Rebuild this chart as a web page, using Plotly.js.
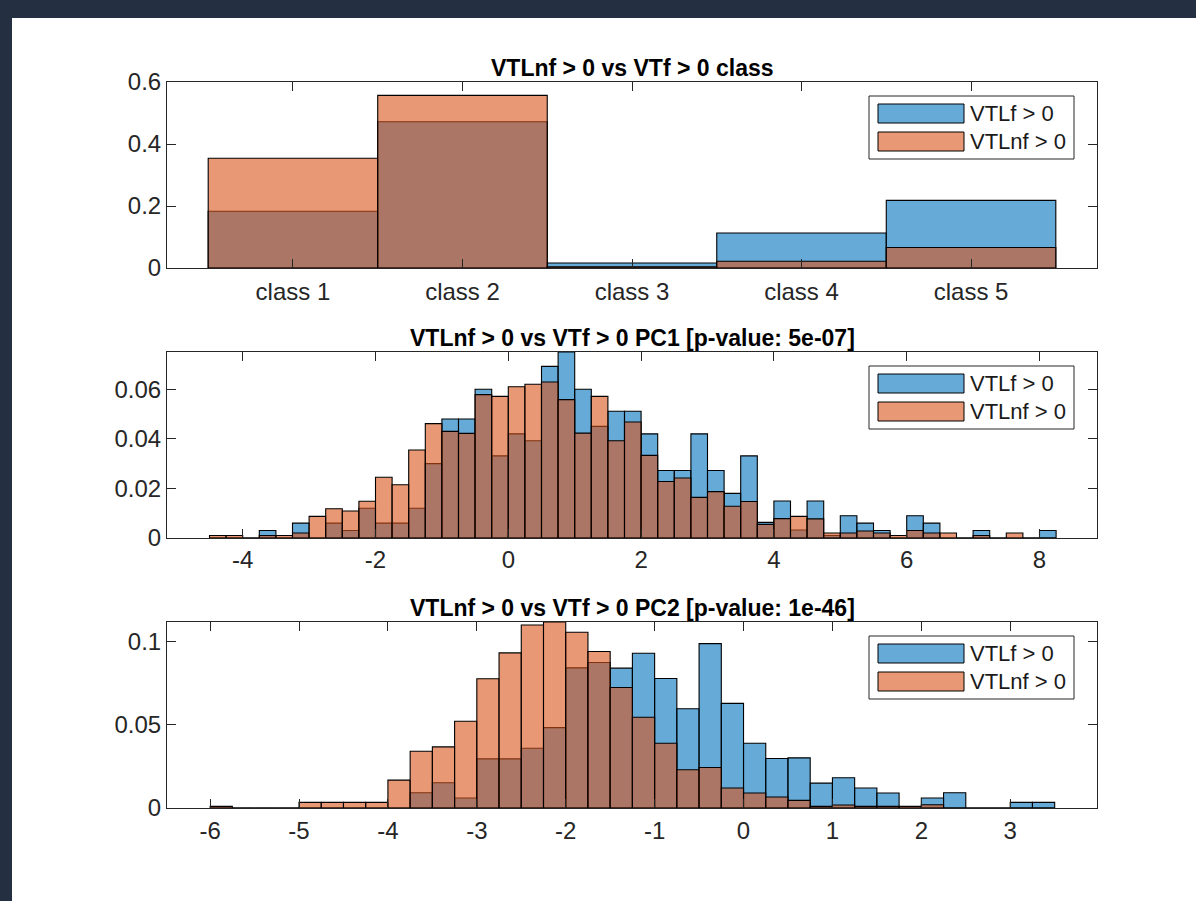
<!DOCTYPE html>
<html>
<head>
<meta charset="utf-8">
<script src="https://cdn.plot.ly/plotly-3.0.1.min.js"></script>
<style>
  html, body { margin: 0; padding: 0; background: #243042; width: 1196px; height: 901px; overflow: hidden; }
  #plot { position: absolute; left: 12px; top: 18px; width: 1184px; height: 883px; background: #ffffff; }
</style>
</head>
<body>
<div id="plot"></div>
<script>
// ---------------- data ----------------
const seriesNames = ['VTLf > 0', 'VTLnf > 0'];

const classCats = ['class 1', 'class 2', 'class 3', 'class 4', 'class 5'];
const classF  = [0.183, 0.472, 0.016, 0.113, 0.218];
const classNF = [0.354, 0.557, 0.004, 0.022, 0.066];

const binWidth = 0.25;

const pc1BinStart = -4.5;
const pc1F = [0, 0, 0, 0.003, 0, 0.006, 0, 0.006, 0.003, 0.012,
              0.006, 0.006, 0.012, 0.030, 0.048, 0.048, 0.060, 0.0331, 0.042, 0.0392,
              0.0692, 0.075, 0.060, 0.045, 0.0511, 0.0511, 0.042, 0.0272, 0.0272, 0.042,
              0.0272, 0.018, 0.0331, 0.0063, 0.0149, 0.0032, 0.0149, 0.001, 0.009, 0.006,
              0.003, 0, 0.009, 0.006, 0, 0, 0.003, 0, 0, 0, 0.003];
const pc1NF = [0.001, 0.001, 0, 0.001, 0.001, 0.002, 0.0087, 0.0118, 0.0109, 0.0148,
               0.0245, 0.0215, 0.0355, 0.0461, 0.043, 0.0422, 0.0578, 0.0571, 0.061, 0.062,
               0.0629, 0.0558, 0.0423, 0.0571, 0.0392, 0.0468, 0.0333, 0.0228, 0.0242, 0.0164,
               0.0187, 0.0128, 0.0147, 0.0055, 0.0078, 0.0087, 0.0077, 0.002, 0.002, 0.0028,
               0.002, 0.001, 0.003, 0.002, 0.002, 0, 0.001, 0, 0.002, 0, 0];

const pc2BinStart = -6.0;
const pc2F = [0, 0, 0, 0, 0, 0, 0, 0, 0, 0.0092,
              0.0152, 0.006, 0.0296, 0.0296, 0.036, 0.0484, 0.0844, 0.0876, 0.0842, 0.0932,
              0.078, 0.0598, 0.099, 0.063, 0.039, 0.0298, 0.0302, 0.015, 0.0182, 0.012,
              0.009, 0, 0.006, 0.0092, 0, 0, 0.0034, 0.0034];
const pc2NF = [0.001, 0, 0, 0, 0.0034, 0.0034, 0.0034, 0.0034, 0.0168, 0.0342,
               0.0368, 0.0522, 0.0778, 0.0934, 0.1102, 0.112, 0.1058, 0.0942, 0.0726, 0.0546,
               0.039, 0.023, 0.0244, 0.012, 0.009, 0.0066, 0.0046, 0.001, 0.0018, 0.001,
               0.001, 0.001, 0.002, 0, 0, 0, 0, 0];

const titles = [
  'VTLnf > 0 vs VTf > 0 class',
  'VTLnf > 0 vs VTf > 0 PC1 [p-value: 5e-07]',
  'VTLnf > 0 vs VTf > 0 PC2 [p-value: 1e-46]'
];
const pc1Ticks = [-4, -2, 0, 2, 4, 6, 8];
const pc2Ticks = [-6, -5, -4, -3, -2, -1, 0, 1, 2, 3];

// ---------------- styling ----------------
const BLUE = 'rgba(0,114,189,0.6)';
const ORANGE = 'rgba(217,83,25,0.6)';
const AXC = '#262626';
const FONT = '"Liberation Sans", Arial, Helvetica, sans-serif';

function binCenters(start, n) {
  const out = [];
  for (let i = 0; i < n; i++) out.push(start + (i + 0.5) * binWidth);
  return out;
}

const traces = [];
function addPair(x, f, nf, w, xa, ya) {
  traces.push({ type: 'bar', x: x, y: f, width: w, name: seriesNames[0], xaxis: xa, yaxis: ya,
    marker: { color: BLUE, line: { color: '#000', width: 1.1 } }, showlegend: false, hoverinfo: 'x+y' });
  traces.push({ type: 'bar', x: x, y: nf, width: w, name: seriesNames[1], xaxis: xa, yaxis: ya,
    marker: { color: ORANGE, line: { color: '#000', width: 1.1 } }, showlegend: false, hoverinfo: 'x+y' });
}
addPair(classCats, classF, classNF, 1, 'x', 'y');
addPair(binCenters(pc1BinStart, pc1F.length), pc1F, pc1NF, binWidth, 'x2', 'y2');
addPair(binCenters(pc2BinStart, pc2F.length), pc2F, pc2NF, binWidth, 'x3', 'y3');

const W = 1184, H = 883;
const xDom = [155 / W, 1085 / W];
// plot tops/bottoms in div pixels
const panels = [[64, 250], [334, 520], [604, 790]];
function yDom(p) { return [(H - p[1]) / H, (H - p[0]) / H]; }

function baseAxis() {
  return {
    showline: true, linecolor: AXC, linewidth: 1, mirror: 'ticks',
    ticks: 'inside', ticklen: 9, tickwidth: 1, tickcolor: AXC,
    showgrid: false, zeroline: false, fixedrange: true,
    tickfont: { family: FONT, size: 24, color: AXC }
  };
}

const layout = {
  width: W, height: H,
  margin: { l: 0, r: 0, t: 0, b: 0 },
  paper_bgcolor: '#ffffff', plot_bgcolor: '#ffffff',
  barmode: 'overlay', bargap: 0,
  showlegend: false,
  font: { family: FONT, size: 24, color: AXC },
  xaxis: Object.assign(baseAxis(), { domain: xDom, anchor: 'y', type: 'category',
    range: [-0.743, 4.743], ticklabelstandoff: 2 }),
  yaxis: Object.assign(baseAxis(), { domain: yDom(panels[0]), anchor: 'x', range: [0, 0.6], dtick: 0.2, tick0: 0 }),
  xaxis2: Object.assign(baseAxis(), { domain: xDom, anchor: 'y2', range: [-5.14, 8.866],
    tickmode: 'array', tickvals: pc1Ticks, ticktext: pc1Ticks.map(v => String(v)) }),
  yaxis2: Object.assign(baseAxis(), { domain: yDom(panels[1]), anchor: 'x2', range: [0, 0.075], dtick: 0.02, tick0: 0 }),
  xaxis3: Object.assign(baseAxis(), { domain: xDom, anchor: 'y3', range: [-6.485, 3.976],
    tickmode: 'array', tickvals: pc2Ticks, ticktext: pc2Ticks.map(v => String(v)), ticklabelstandoff: 1 }),
  yaxis3: Object.assign(baseAxis(), { domain: yDom(panels[2]), anchor: 'x3', range: [0, 0.112], dtick: 0.05, tick0: 0 }),
  shapes: [],
  annotations: []
};

// titles and legends (pixel offsets relative to each plot area)
const plotWpx = 930, plotHpx = 186;
const axNames = [['x', 'y'], ['x2', 'y2'], ['x3', 'y3']];
axNames.forEach(function (ax, i) {
  const xr = ax[0] + ' domain', yr = ax[1] + ' domain';
  const fx = px => px / plotWpx;
  const fy = py => 1 - py / plotHpx;   // py measured downward from plot top
  layout.annotations.push({
    xref: xr, yref: yr, x: 0.5, y: 1, xanchor: 'center', yanchor: 'bottom', yshift: -1,
    text: '<b>' + titles[i] + '</b>', showarrow: false,
    font: { family: FONT, size: 23, color: '#000' }
  });
  // legend box
  const bx0 = 702, bx1 = 907, by0 = 14, by1 = 77;
  layout.shapes.push({ type: 'rect', xref: xr, yref: yr, x0: fx(bx0), x1: fx(bx1), y0: fy(by0), y1: fy(by1),
    line: { color: AXC, width: 1 }, fillcolor: '#ffffff', layer: 'above' });
  const patches = [[22, 41, BLUE], [50, 69, ORANGE]];
  patches.forEach(function (p, k) {
    layout.shapes.push({ type: 'rect', xref: xr, yref: yr, x0: fx(711), x1: fx(797), y0: fy(p[0]), y1: fy(p[1]),
      line: { color: '#000', width: 1 }, fillcolor: p[2], layer: 'above' });
    layout.annotations.push({ xref: xr, yref: yr, x: fx(801), y: fy((p[0] + p[1]) / 2), xanchor: 'left', yanchor: 'middle',
      text: seriesNames[k], showarrow: false, font: { family: FONT, size: 22, color: '#1a1a1a' } });
  });
});

Plotly.newPlot('plot', traces, layout, { displayModeBar: false, staticPlot: true });
</script>
</body>
</html>
